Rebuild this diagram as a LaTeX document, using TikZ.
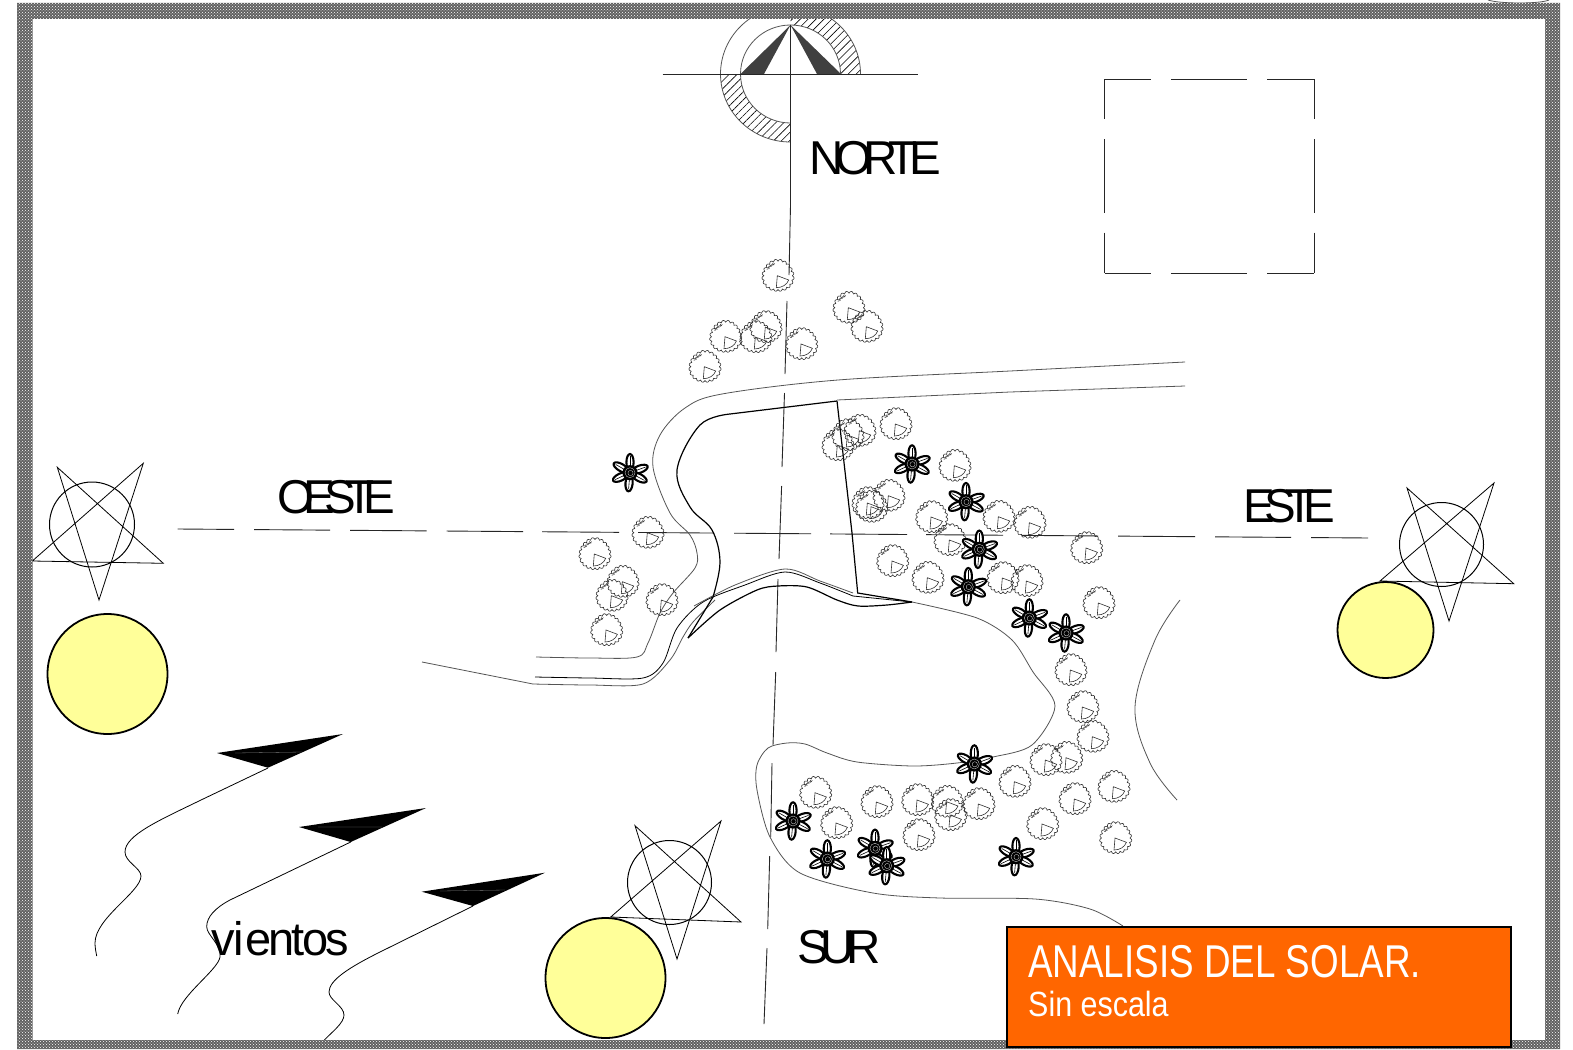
\documentclass[tikz,border=0pt]{standalone}
\usepackage{fontspec}
\usetikzlibrary{patterns,patterns.meta}
\setmainfont{Liberation Sans}
\newfontfamily\tightfont[LetterSpace=-17.5]{Liberation Sans}
\newfontfamily\tighterfont[LetterSpace=-22.5]{Liberation Sans}
\newfontfamily\ventfont[LetterSpace=-6]{Liberation Sans}
\newfontfamily\titlefont[FakeStretch=0.8]{Liberation Sans}
\newfontfamily\subfont[FakeStretch=0.87]{Liberation Sans}
\definecolor{sunfill}{HTML}{FFFF99}
\definecolor{titlefill}{HTML}{FF6600}
\definecolor{compassdark}{HTML}{404040}
\definecolor{roadgray}{HTML}{555555}
\tikzset{
  axisline/.style={line width=.9pt,color=black!85},
  cadline/.style={line width=.8pt,color=black},
  roadline/.style={line width=.8pt,color=roadgray},
  lotline/.style={line width=1.2pt,color=black},
  treeline/.style={line width=.6pt,color=black!80},
  sunshape/.style={draw=black,line width=1.8pt,fill=sunfill},
  bigword/.style={anchor=base west,inner sep=0pt,font=\tightfont\fontsize{47.5}{47.5}\selectfont},
  bigwordb/.style={anchor=base west,inner sep=0pt,font=\tighterfont\fontsize{47.5}{47.5}\selectfont},
  windtip/.style={fill=black,draw=none},
  arbol/.pic={
    \draw[treeline] plot[domain=0:360,samples=101] (\x:{14.2+1.9*abs(sin(10*\x))+0.4*sin(3*\x)});
    \draw[treeline,line width=.4pt] plot[domain=-150:-105,samples=17] (\x:{12.4+1*sin(50*\x)});
    \draw[treeline] (-0.7,0) -- (-1.7,12) .. controls (4,12) and (9,9) .. (10.7,4.3) -- cycle;
  },
  flor/.pic={
    \foreach \a in {90,20,-28,-95,205,150}{
      \begin{scope}[rotate=\a]
        \draw[line width=2.1pt,fill=white] (10.4,0) ellipse[x radius=8.3,y radius=3.6];
        \draw[line width=.6pt] (4,0) -- (16.5,0);
      \end{scope}
    }
    \fill[black] (0,0) circle[radius=7.6];
    \draw[white,line width=.25pt] (0,0) circle[radius=5] (0.5,0.3) circle[radius=2.6];
  },
}
\begin{document}
\begin{tikzpicture}[x=1pt,y=-1pt]
\useasboundingbox (0,0) rectangle (1573,1049);
\fill[white] (0,0) rectangle (1573,1049);

% compass
\fill[pattern={Lines[angle=45,distance=5.6pt,line width=.6pt]}] (860.5,74) arc[start angle=0,end angle=-90,x radius=70,y radius=68] -- (790.5,25) arc[start angle=-90,end angle=0,x radius=50,y radius=49] -- cycle;
\fill[pattern={Lines[angle=45,distance=5.6pt,line width=.6pt]}] (720.5,74) arc[start angle=180,end angle=90,x radius=70,y radius=68] -- (790.5,123) arc[start angle=90,end angle=180,x radius=50,y radius=49] -- cycle;
\draw[roadline] (790.5,142) arc[start angle=90,end angle=360,x radius=70,y radius=68];
\draw[roadline] (790.5,123) arc[start angle=90,end angle=360,x radius=50,y radius=49];
\fill[compassdark] (790.5,25) -- (740.5,74) -- (764,74) -- cycle;
\fill[compassdark] (790.5,25) -- (841,74) -- (817,74) -- cycle;
\draw[axisline] (662.7,74) -- (918,74);

% north-south axis
\draw[axisline] (790.5,25) -- (790.5,205) -- (789,275);
\foreach \xa/\ya/\xb/\yb in {787/301/785/374, 784.5/393/782/467, 781.6/486/779/559, 778/579/776/652, 775.7/672/773/745, 772/763/770.7/837, 769.7/856/767.7/929, 767/948/764/1024}
  \draw[axisline] (\xa,\ya) -- (\xb,\yb);

% east-west axis
\foreach \a/\b in {177.6/234,254/330,350/426.5,446.5/523,542/619,638/714,734/811,830/907,926/1003,1022/1098,1118/1195,1215/1291,1311/1368}
  \draw[axisline] (\a,{529+(\a-177.6)*0.00756}) -- (\b,{529+(\b-177.6)*0.00756});

% dashed square
\foreach \a/\b in {1104.5/1151,1171/1247,1267/1314}{
  \draw[axisline] (\a,79.3) -- (\b,79.3);
  \draw[axisline] (\a,273) -- (\b,273);
}
\foreach \a/\b in {79.3/119.4,139.4/212.7,232.7/273}{
  \draw[axisline] (1104.5,\a) -- (1104.5,\b);
  \draw[axisline] (1314,\a) -- (1314,\b);
}

% roads
\draw[roadline] plot[smooth,tension=.55] coordinates {(1185,362) (1010,371) (838,380) (722,394) (685,408) (660,435) (653,467) (670,513) (690,535) (697,553) (695,568) (673,593) (660,613) (648,643) (637,657) (590,658) (536,657)};
\draw[roadline] (1185,386) -- (1010,392) -- (837,400);
\draw[cadline] plot[smooth,tension=.5] coordinates {(535,677) (590,678) (643,678) (663,663) (677,628) (703,602) (745,585) (785,572) (820,583) (853,596)};
\draw[cadline] (853,596) -- (912,602);
\draw[roadline] (422,662) -- (533,684);
\draw[roadline] plot[smooth,tension=.5] coordinates {(533,684) (590,685) (643,684) (670,660) (683,637) (693,622) (715,600)};
\draw[roadline] plot[smooth,tension=.5] coordinates {(694,606) (735,585) (785,569) (820,581) (853,593)};
\draw[lotline] (837,401) -- (730,414);
\draw[lotline] plot[smooth,tension=.6] coordinates {(730,414) (700,425) (677,470) (690,507) (712,530) (720,562) (713,597)};
\draw[lotline] (713,597) -- (688,638);
\draw[lotline] plot[smooth,tension=.5] coordinates {(688,638) (720,610) (757,590) (778,586) (807,587) (837,600) (858,606) (887,605) (912,602)};
\draw[lotline] (837,401) -- (852,533) -- (857.7,593) -- (912,602);
\draw[roadline] plot[smooth,tension=.5] coordinates {(912,602) (977,618) (1012,640) (1033,672) (1055,706) (1032,745) (993,757) (957,763) (913,766) (857,762) (827,753) (805,744) (787,743) (768,748) (757,765) (757,790) (770,837) (800,873) (873,893) (940,898) (1035,899) (1090,909) (1123,926)};
\draw[roadline] plot[smooth,tension=.6] coordinates {(1180,600) (1155,640) (1135,707) (1150,763) (1177,800)};
\draw[roadline] (1488,0) .. controls (1500,4) and (1540,4) .. (1549,0);

% trees
\foreach \x/\y in {778/275.7,849/307.7,867/326.7,766/327,756/337,725.7/336.7,801.7/344,705/366.7,
896/424,860/430.7,848/435,838/445,889/495.7,868/503,871.7/506.7,648/532.7,595/554,623/581.7,612/595.7,662/600,606.7/630,892.7/561,
955/465.7,931.7/517,999/516.7,1030/522.7,950/540,1086.7/548,928/577.7,1003/578,1027/581,1099/603,
1071/670,1083/707,1093/736.7,1066.7/757.7,1046/760,1015/781.7,1114/786.7,1075/799,1042.7/824,1115.7/838,
815.7/792.7,836.7/823,877/802,917.7/800,947.3/801.7,950.7/815,979/804,919/835}
  \pic at (\x,\y) {arbol};

% flowers
\foreach \x/\y in {630/472.7,912/464,966/501.7,979.3/549.3,968.3/586.7,1029.3/618,1066/633,974.3/764,793/821,827.3/859,875/848.3,886.7/865.7,1016/856.7}
  \pic at (\x,\y) {flor};

% sun paths
\draw[cadline] (143.3,463.3) -- (32.3,561) -- (163.3,563.3) -- (57.3,467.3) -- (99,600) -- cycle;
\draw[cadline,line width=1pt] (92,524.5) circle[radius=42.5];
\draw[cadline] (1494,483) -- (1380,581) -- (1513.7,583.7) -- (1407,488) -- (1449,621) -- cycle;
\draw[cadline,line width=1pt] (1441.5,544.5) circle[radius=42];
\draw[cadline] (721,821) -- (610.7,917) -- (741,922) -- (635,825.7) -- (677,959) -- cycle;
\draw[cadline,line width=1pt] (669.5,882.5) circle[radius=42];
\node[sunshape,circle,minimum size=120pt,inner sep=0pt] (sunw) at (107.5,674) {};
\node[sunshape,circle,minimum size=96pt,inner sep=0pt] (sune) at (1385.5,630) {};
\node[sunshape,circle,minimum size=120pt,inner sep=0pt] (suns) at (605.5,978) {};

% wind
\fill[windtip] (343,734) -- (217,753) -- (268,767.7) -- cycle;
\fill[windtip] (426,808) -- (299,827) -- (350.7,842) -- cycle;
\fill[windtip] (545,872.7) -- (421.7,891.7) -- (473,906) -- cycle;
\draw[black!50,line width=.3pt] (235,753) -- (302,752) (318,827) -- (382,827) (440,891) -- (505,890);
\draw[cadline] (268,768) -- (201,800) .. controls (160,820) and (125,835) .. (125,852) .. controls (125,862) and (141,868) .. (141,876) .. controls (141,892) and (95,918) .. (95,943) .. controls (95,948) and (96,952) .. (96.7,956);
\draw[cadline] (350.7,842) -- (230,900) .. controls (215,908) and (206.7,917) .. (206.7,926.7) .. controls (206.7,935) and (222,945) .. (220,957) .. controls (218,970) and (181,995) .. (177.7,1014);
\draw[cadline] (473,906) -- (380,952) .. controls (350,967) and (329,980) .. (329,992) .. controls (329,1000) and (344,1006) .. (344,1015) .. controls (344,1023) and (332,1032) .. (324.3,1040);

% frame
\fill[black!62,even odd rule] (17,3) rectangle (1560,1049) (32.5,19) rectangle (1545,1040);
\fill[pattern=crosshatch dots,pattern color=white,even odd rule] (17,3) rectangle (1560,1049) (32.5,19) rectangle (1545,1040);

% labels
\node[bigword] (norte) at (809,174) {NORTE};
\node[bigwordb] (oeste) at (277,513) {OESTE};
\node[bigwordb] (este) at (1243,522.5) {ESTE};
\node[bigword] (sur) at (797,963) {SUR};
\node[anchor=base west,inner sep=0pt,font=\ventfont\fontsize{47}{47}\selectfont] (vientos) at (211,955) {v\kern-1pt i\kern1pt entos};

% title
\draw[fill=titlefill,draw=black,line width=1.6pt] (1007,927) rectangle (1511,1047);
\node[anchor=base west,inner sep=0pt,text=white,font=\titlefont\fontsize{46}{46}\selectfont] (titulo) at (1028,977.5) {ANALISIS DEL SOLAR.};
\node[anchor=base west,inner sep=0pt,text=white,font=\subfont\fontsize{35}{35}\selectfont] (escala) at (1028,1016) {Sin escala};
\end{tikzpicture}
\end{document}
